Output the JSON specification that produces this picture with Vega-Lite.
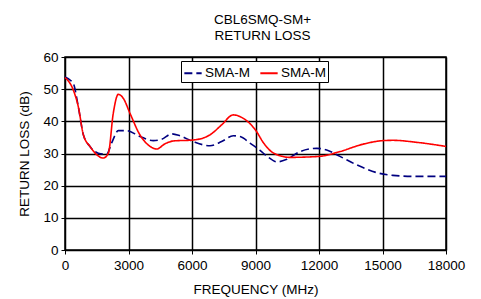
{
  "$schema": "https://vega.github.io/schema/vega-lite/v6.json",
  "width": 381,
  "height": 193,
  "padding": {"left": 17, "top": 12, "right": 5, "bottom": 5},
  "background": "white",
  "config": {
    "font": "Liberation Sans",
    "view": {"stroke": "#000", "strokeWidth": 1.5},
    "axis": {"labelFlush": false, "labelOverlap": false, "labelFont": "Liberation Sans", "titleFont": "Liberation Sans", "labelFontSize": 13.5, "titleFontSize": 13.5, "titleFontWeight": "normal", "labelColor": "#000", "titleColor": "#000", "domainColor": "#000", "tickColor": "#000", "tickSize": 4}
  },
  "title": {"text": ["CBL6SMQ-SM+", "RETURN LOSS"], "font": "Liberation Sans", "fontSize": 13.5, "fontWeight": "normal", "color": "#000", "anchor": "middle", "frame": "group", "dx": 7, "offset": 8, "lineHeight": 16},
  "data": {"values": [
    {"series": "A", "freq": 0, "rl": 53.8},
    {"series": "A", "freq": 394, "rl": 51.7},
    {"series": "A", "freq": 630, "rl": 44.5},
    {"series": "A", "freq": 868, "rl": 35.8},
    {"series": "A", "freq": 1180, "rl": 32.2},
    {"series": "A", "freq": 1575, "rl": 30.1},
    {"series": "A", "freq": 1970, "rl": 29.8},
    {"series": "A", "freq": 2200, "rl": 33.2},
    {"series": "A", "freq": 2520, "rl": 37.1},
    {"series": "A", "freq": 2910, "rl": 37.1},
    {"series": "A", "freq": 3540, "rl": 35.3},
    {"series": "A", "freq": 4170, "rl": 34.0},
    {"series": "A", "freq": 4570, "rl": 34.4},
    {"series": "A", "freq": 5040, "rl": 36.1},
    {"series": "A", "freq": 5430, "rl": 35.5},
    {"series": "A", "freq": 6060, "rl": 33.7},
    {"series": "A", "freq": 6850, "rl": 32.4},
    {"series": "A", "freq": 7400, "rl": 33.7},
    {"series": "A", "freq": 7950, "rl": 35.5},
    {"series": "A", "freq": 8270, "rl": 35.3},
    {"series": "A", "freq": 8740, "rl": 33.2},
    {"series": "A", "freq": 9210, "rl": 31.0},
    {"series": "A", "freq": 9550, "rl": 29.1},
    {"series": "A", "freq": 10020, "rl": 27.4},
    {"series": "A", "freq": 10480, "rl": 28.2},
    {"series": "A", "freq": 11110, "rl": 30.6},
    {"series": "A", "freq": 11890, "rl": 31.6},
    {"series": "A", "freq": 12360, "rl": 31.1},
    {"series": "A", "freq": 12990, "rl": 29.1},
    {"series": "A", "freq": 13770, "rl": 26.5},
    {"series": "A", "freq": 14700, "rl": 24.1},
    {"series": "A", "freq": 15490, "rl": 23.2},
    {"series": "A", "freq": 16420, "rl": 22.9},
    {"series": "A", "freq": 18000, "rl": 22.9},
    {"series": "B", "freq": 0, "rl": 53.6},
    {"series": "B", "freq": 394, "rl": 49.7},
    {"series": "B", "freq": 630, "rl": 44.5},
    {"series": "B", "freq": 868, "rl": 35.8},
    {"series": "B", "freq": 1180, "rl": 32.2},
    {"series": "B", "freq": 1810, "rl": 28.6},
    {"series": "B", "freq": 2050, "rl": 30.1},
    {"series": "B", "freq": 2280, "rl": 42.5},
    {"series": "B", "freq": 2520, "rl": 48.4},
    {"series": "B", "freq": 2760, "rl": 47.1},
    {"series": "B", "freq": 3070, "rl": 42.5},
    {"series": "B", "freq": 3540, "rl": 35.8},
    {"series": "B", "freq": 4020, "rl": 32.2},
    {"series": "B", "freq": 4330, "rl": 31.4},
    {"series": "B", "freq": 4720, "rl": 33.0},
    {"series": "B", "freq": 5120, "rl": 33.9},
    {"series": "B", "freq": 6060, "rl": 34.2},
    {"series": "B", "freq": 6850, "rl": 35.8},
    {"series": "B", "freq": 7400, "rl": 38.9},
    {"series": "B", "freq": 7950, "rl": 42.0},
    {"series": "B", "freq": 8430, "rl": 40.9},
    {"series": "B", "freq": 9000, "rl": 37.3},
    {"series": "B", "freq": 9390, "rl": 33.2},
    {"series": "B", "freq": 9860, "rl": 30.1},
    {"series": "B", "freq": 10640, "rl": 28.8},
    {"series": "B", "freq": 12000, "rl": 29.1},
    {"series": "B", "freq": 12990, "rl": 30.6},
    {"series": "B", "freq": 14080, "rl": 32.9},
    {"series": "B", "freq": 15020, "rl": 34.0},
    {"series": "B", "freq": 15490, "rl": 34.1},
    {"series": "B", "freq": 16580, "rl": 33.5},
    {"series": "B", "freq": 18000, "rl": 32.2}
  ]},
  "mark": {"type": "line", "interpolate": "monotone", "strokeWidth": 1.6},
  "encoding": {
    "x": {"field": "freq", "type": "quantitative", "scale": {"domain": [0, 18000], "nice": false}, "axis": {"grid": true, "gridColor": "#000", "gridOpacity": 1, "gridWidth": 1.5, "values": [0, 3000, 6000, 9000, 12000, 15000, 18000], "format": "d", "title": "FREQUENCY (MHz)", "titlePadding": 11, "labelPadding": 4}},
    "y": {"field": "rl", "type": "quantitative", "scale": {"domain": [0, 60], "nice": false}, "axis": {"grid": true, "gridColor": "#000", "gridOpacity": 1, "gridWidth": 1.5, "values": [0, 10, 20, 30, 40, 50, 60], "title": "RETURN LOSS (dB)", "titlePadding": 11, "labelPadding": 3}},
    "color": {"field": "series", "type": "nominal", "scale": {"domain": ["A", "B"], "range": ["#000080", "#FF0000"]}, "legend": {"title": null, "orient": "none", "legendX": 116, "legendY": 4, "direction": "horizontal", "labelExpr": "'SMA-M'", "symbolType": "stroke", "symbolSize": 300, "symbolStrokeWidth": 2, "labelFontSize": 13.5, "labelFont": "Liberation Sans", "labelColor": "#000", "strokeColor": "#000", "fillColor": "#fff", "padding": 2, "columnPadding": 6, "labelOffset": 2}},
    "strokeDash": {"field": "series", "type": "nominal", "scale": {"domain": ["A", "B"], "range": [[8, 4], [1, 0]]}, "legend": {"title": null, "orient": "none", "legendX": 116, "legendY": 4, "direction": "horizontal", "labelExpr": "'SMA-M'", "symbolType": "stroke", "symbolSize": 300, "symbolStrokeWidth": 2, "labelFontSize": 13.5, "labelFont": "Liberation Sans", "labelColor": "#000", "strokeColor": "#000", "fillColor": "#fff", "padding": 2, "columnPadding": 6, "labelOffset": 2}}
  }
}
